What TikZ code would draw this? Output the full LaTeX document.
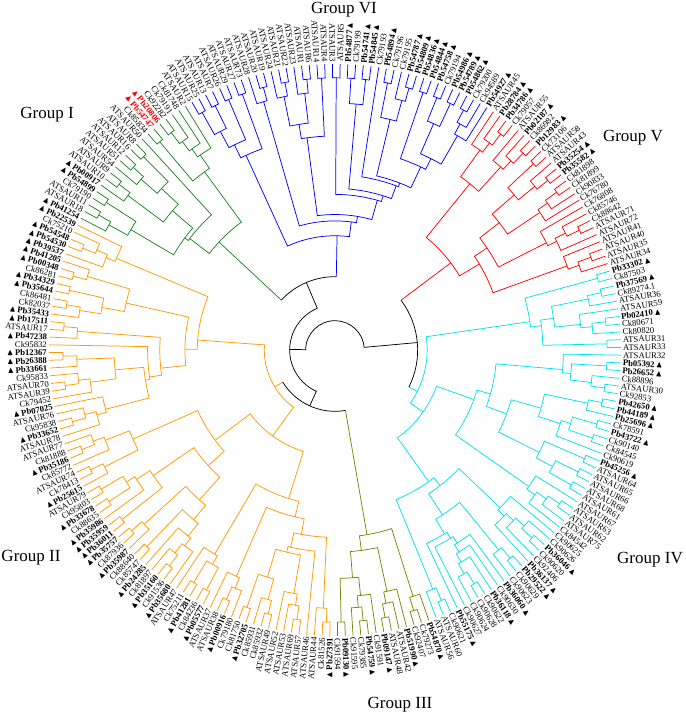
\documentclass[tikz,border=0pt]{standalone}
\usepackage{amssymb}
\usepackage{fontspec}
\setmainfont{Liberation Serif}
\usetikzlibrary{calc}

\definecolor{grpI}{RGB}{30,130,30}
\definecolor{grpII}{RGB}{255,153,0}
\definecolor{grpIII}{RGB}{128,128,0}
\definecolor{grpIV}{RGB}{0,225,238}
\definecolor{grpV}{RGB}{255,0,0}
\definecolor{grpVI}{RGB}{0,0,255}

\def\tipr{214.5}
\def\lvl{18}
\def\thz{152.586}
\def\dst{1.55172}
\newcommand\cladeR[1]{(\tipr-\lvl*ln(#1)*sqrt(ln(#1)))}

\newcommand\clade[2]{%
 \begingroup
 \pgfmathtruncatemacro\cnum{#2-#1+1}%
 \ifnum\cnum>1
  \pgfmathtruncatemacro\csplit{#1+min(floor(rnd*(\cnum-1)),\cnum-2)}%
  \pgfmathtruncatemacro\csplitp{\csplit+1}%
  \pgfmathsetmacro\crad{\cladeR{\cnum}}%
  \pgfmathsetmacro\rada{\cladeR{\csplit-#1+1}}%
  \pgfmathsetmacro\radb{\cladeR{#2-\csplit}}%
  \pgfmathsetmacro\anga{\thz-(#1+\csplit)/2*\dst}%
  \pgfmathsetmacro\angb{\thz-(\csplitp+#2)/2*\dst}%
  \draw (\anga:\rada pt) -- (\anga:\crad pt)
    arc[start angle=\anga, end angle=\angb, radius=\crad pt] -- (\angb:\radb pt);
  \edef\cladeA{\noexpand\clade{#1}{\csplit}}%
  \edef\cladeB{\noexpand\clade{\csplitp}{#2}}%
  \cladeA\cladeB
 \fi
 \endgroup}

% group: first leaf, last leaf, colour, radius of the join below it
\newcommand\grp[4]{%
 \begingroup
 \pgfmathsetmacro\ga{\thz-(#1+#2)/2*\dst}%
 \pgfmathsetmacro\gr{\cladeR{#2-#1+1}}%
 \begin{scope}[#3]
  \draw (\ga:#4pt) -- (\ga:\gr pt);
  \clade{#1}{#2}
 \end{scope}
 \endgroup}

\tikzset{
  leaf/.style={inner sep=0.4pt, font=\fontsize{6.5}{7}\selectfont},
  grplbl/.style={font=\fontsize{12.75}{14}\selectfont}
}

\begin{document}
\begin{tikzpicture}[line width=0.55pt]
\useasboundingbox (-251.25pt,-275.25pt) rectangle (262.5pt,262.5pt);
\pgfmathsetseed{11}

\grp{0}{20}{grpI}{55}
\grp{21}{61}{grpVI}{55}
\grp{62}{87}{grpV}{62}
\grp{88}{143}{grpIV}{62}
\grp{144}{156}{grpIII}{46}
\grp{157}{231}{grpII}{46}

\pgfmathsetmacro\gI{\thz-10*\dst}
\pgfmathsetmacro\gVI{\thz-41*\dst}
\pgfmathsetmacro\gV{\thz-74.5*\dst}
\pgfmathsetmacro\gIV{\thz-115.5*\dst}
\pgfmathsetmacro\gIII{\thz-150*\dst}
\pgfmathsetmacro\gII{\thz-194*\dst}
\pgfmathsetmacro\jA{(\gI+\gVI)/2}
\pgfmathsetmacro\jB{(\gV+\gIV)/2}
\pgfmathsetmacro\jD{(\gIII+\gII)/2+360}
\pgfmathsetmacro\jL{(\jA+\jD)/2}
\draw (\gI:55pt) arc[start angle=\gI, end angle=\gVI, radius=55pt];
\draw (\gV:62pt) arc[start angle=\gV, end angle=\gIV, radius=62pt];
\draw (\gIII:46pt) arc[start angle=\gIII, end angle=\gII, radius=46pt];
\draw (\jA:55pt) -- (\jA:34pt) arc[start angle=\jA, end angle=\jD, radius=34pt] -- (\jD:46pt);
\draw (\jL:34pt) -- (\jL:22pt) arc[start angle=\jL, end angle=\jB, radius=22pt] -- (\jB:62pt);

\foreach \ty/\nm [count=\idx from 0] in {b/Pb41254,n/ATSAUR18,n/ATSAUR11,n/Ck79190,b/Pb54899,b/Pb00917,n/ATSAUR10,n/ATSAUR9,n/ATSAUR54,n/ATSAUR51,n/ATSAUR12,n/ATSAUR16,n/ATSAUR8,n/ATSAUR50,n/Ck85834,r/Pb54747,r/Pb20806,n/Ck92282,n/Ck79191,n/Ck81748,n/ATSAUR2,
n/ATSAUR15,n/ATSAUR25,n/ATSAUR13,n/ATSAUR7,n/ATSAUR26,n/ATSAUR29,n/ATSAUR27,n/ATSAUR73,n/ATSAUR28,n/ATSAUR20,n/ATSAUR19,n/ATSAUR24,n/ATSAUR21,n/ATSAUR22,n/ATSAUR23,n/ATSAUR1,n/ATSAUR6,n/ATSAUR14,n/ATSAUR4,n/ATSAUR3,n/ATSAUR5,b/Pb54877,n/Ck79199,b/Pb54741,b/Pb54845,n/Ck79193,b/Pb54894,n/Ck79196,n/Ck79195,b/Pb54787,b/Pb54809,b/Pb54836,b/Pb54844,b/Pb54758,n/Ck79194,b/Pb54986,b/Pb54789,b/Pb54862,n/Ck79200,n/Ck94589,b/Pb54927,
n/ATSAUR45,b/Pb28784,b/Pb34786,n/Ck79057,n/ATSAUR55,b/Pb02187,n/Ck86982,b/Pb12983,n/Ck73106,n/ATSAUR58,n/ATSAUR43,b/Pb35254,b/Pb35582,n/Ck81898,n/Ck81899,n/Ck90833,n/Ck76780,n/Ck76808,n/Ck85746,n/Ck88642,n/ATSAUR71,n/ATSAUR72,n/ATSAUR41,n/ATSAUR40,n/ATSAUR35,n/ATSAUR34,
b/Pb33302,n/Ck87503,b/Pb37569,n/Ck89274.1,n/ATSAUR36,n/ATSAUR59,b/Pb02410,n/Ck80671,n/Ck80820,n/ATSAUR31,n/ATSAUR33,n/ATSAUR32,b/Pb05392,b/Pb26652,n/Ck88896,n/ATSAUR30,n/Ck92853,b/Pb42650,b/Pb44189,b/Pb25696,n/Ck78591,b/Pb43722,n/Ck90140,n/Ck84545,n/Ck90619,b/Pb45256,n/ATSAUR64,n/ATSAUR65,n/ATSAUR66,n/ATSAUR68,n/ATSAUR61,n/ATSAUR67,n/ATSAUR63,n/ATSAUR62,n/ATSAUR75,n/Ck84542,n/Ck90625,n/Ck90626,b/Pb36046,n/Ck90620,n/Ck92406,b/Pb36137,b/Pb29522,n/Ck90629,n/Ck90623,b/Pb36060,n/Ck90630,b/Pb36118,n/Ck90622,n/Ck90628,n/Ck90624,n/Ck90627,b/Pb55175,n/Ck90621,n/ATSAUR60,n/ATSAUR56,
b/Pb54870,n/Ck79273,n/Ck92407,b/Pb51990,n/ATSAUR42,n/ATSAUR48,b/Pb09147,n/Ck91591,b/Pb54759,n/Ck79385,n/Ck91595,b/Pb09130,n/Ck91594,
b/Pb27391,n/Ck81526,n/ATSAUR44,n/ATSAUR46,n/ATSAUR57,n/ATSAUR69,n/ATSAUR53,n/ATSAUR52,n/ATSAUR49,n/Ck85932,n/Ck85931,b/Pb32705,n/Ck81750,n/Ck79180,b/Pb00916,n/ATSAUR38,n/ATSAUR37,b/Pb05577,n/Ck84236,b/Pb41281,n/Ck75211,n/ATSAUR47,b/Pb35680,n/Ck91536,b/Pb35160,n/Ck81897,b/Pb24285,n/Ck85747,n/Ck88640,b/Pb35987,n/Ck87936,b/Pb35757,b/Pb36011,b/Pb35959,b/Pb35986,n/Ck88635,b/Pb33678,n/Ck95803,n/ATSAUR79,b/Pb25615,n/Ck78413,n/ATSAUR74,n/Ck85772,b/Pb35186,n/Ck81888,n/ATSAUR77,n/ATSAUR78,b/Pb33652,n/Ck95838,n/ATSAUR76,b/Pb07025,n/Ck79452,n/ATSAUR39,n/ATSAUR70,n/Ck95833,b/Pb33661,b/Pb26388,b/Pb12367,n/Ck95832,b/Pb47238,n/ATSAUR17,b/Pb17511,b/Pb35433,n/Ck82037,n/Ck86481,b/Pb35644,b/Pb34329,n/Ck86281,b/Pb00348,b/Pb41205,b/Pb39537,b/Pb54530,b/Pb54548,n/Ck75210,b/Pb22539}{
  \pgfmathsetmacro\la{\thz-\idx*\dst}
  \pgfmathtruncatemacro\ls{cos(\la)<0 ? 1 : 0}
  \if\ty n\def\lblR{\nm}\def\lblL{\nm}\fi
  \if\ty b\def\lblR{\textbf{\nm}\,$\blacktriangle$}\def\lblL{$\blacktriangle$\,\textbf{\nm}}\fi
  \if\ty r\def\lblR{\textcolor{red}{\textbf{\nm}\,$\blacktriangle$}}\def\lblL{\textcolor{red}{$\blacktriangle$\,\textbf{\nm}}}\fi
  \ifnum\ls=0
    \node[leaf, anchor=west, rotate=\la] (L\idx) at (\la:\tipr pt+1pt) {\lblR};
  \else
    \node[leaf, anchor=east, rotate=\la+180] (L\idx) at (\la:\tipr pt+1pt) {\lblL};
  \fi
}

\node[grplbl] (gI) at (-216pt,176.25pt) {Group I};
\node[grplbl] (gII) at (-228pt,-156pt) {Group II};
\node[grplbl] (gIII) at (48.75pt,-266.25pt) {Group III};
\node[grplbl] (gIV) at (236.25pt,-157.5pt) {Group IV};
\node[grplbl] (gV) at (223.5pt,159pt) {Group V};
\node[grplbl] (gVI) at (6.75pt,255pt) {Group VI};
\end{tikzpicture}
\end{document}
